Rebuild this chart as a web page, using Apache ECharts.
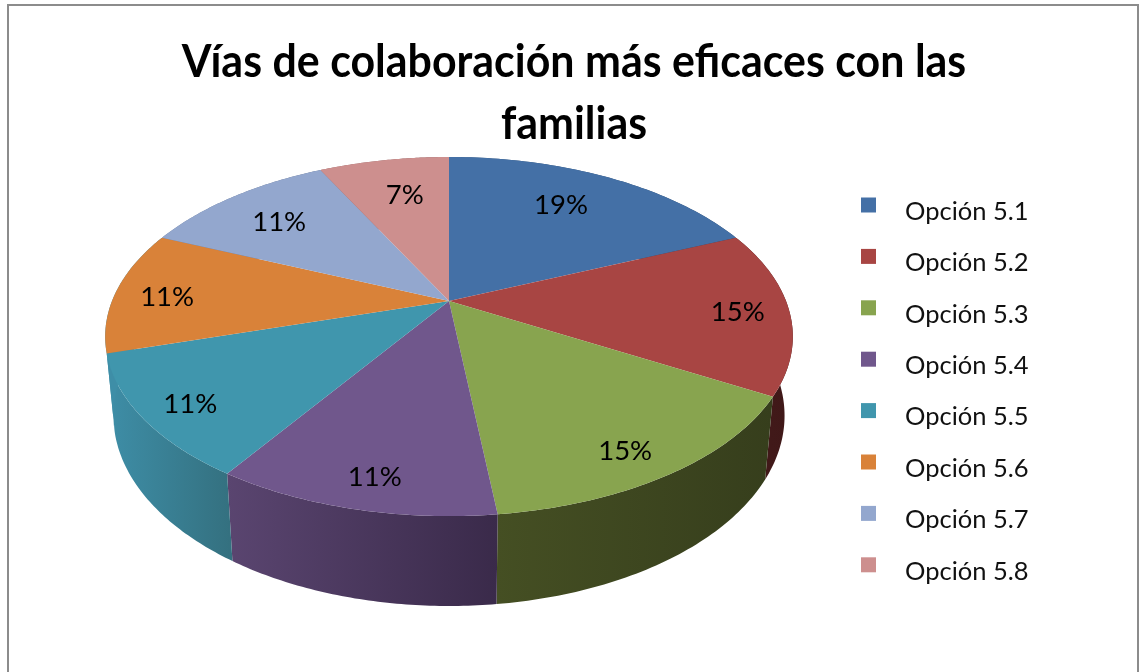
<!DOCTYPE html>
<html>
<head>
<meta charset="utf-8">
<style>
  html,body{margin:0;padding:0;background:#fff;overflow:hidden}
  #chart{width:1139px;height:672px}
</style>
<script src="https://cdn.jsdelivr.net/npm/echarts@6/dist/echarts.min.js"></script>
</head>
<body>
<div id="chart"></div>
<script>
// datos
var titleLines = ['Vías de colaboración más eficaces con las', 'familias'];
var categories = ['Opción 5.1','Opción 5.2','Opción 5.3','Opción 5.4','Opción 5.5','Opción 5.6','Opción 5.7','Opción 5.8'];
var shares = [18.5,14.8,14.8,11.1,11.1,11.1,11.1,7.4];

// colores
var topColors = ['#4470a6','#a84543','#88a44f','#70578c','#4096ad','#d98239','#93a7ce','#cd8f8e'];
var wallLeft = ['#36597f','#451b1b','#454f23','#5a4570','#3e8ea7','#3e8ea7','#6f7f9e','#9c6c6c'];
var wallRight = ['#2a4566','#3f1818','#363e1c','#3a2a4a','#34707f','#3e8ea7','#5d6b85','#845b5b'];

// posicion de cada porcentaje dentro de la porcion (radio relativo y ajuste en px)
var labelRadius = [0.74,0.85,0.85,0.87,0.86,0.84,0.75,0.72];
var labelShift = [[-10,-1],[0,3],[-7,8],[7,1],[0,5],[-2,4],[-3,2],[5,0]];

var total = shares.reduce(function(a,b){return a+b},0);

// proyeccion del disco en perspectiva
var apexX = 449, apexY = 301;
var scaleX = 337, scaleY = 172.5, persp = 0.198;
function project(t, r){
  var u = r*Math.sin(t), v = r*Math.cos(t), w = 1+persp*v;
  return [apexX+scaleX*u/w, apexY-scaleY*v/w];
}
// borde inferior de la pared
function lower(p){
  return [apexX+(p[0]-apexX)*0.976, apexY+77+(p[1]-apexY)*1.06];
}

function sliceRender(index){
  return function(params, api){
    var before = 0;
    for(var i=0;i<index;i++) before += shares[i];
    var value = api.value(0);
    var t0 = before/total*Math.PI*2, t1 = (before+value)/total*Math.PI*2;
    var arc = [], steps = 60;
    for(var s=0;s<=steps;s++) arc.push(project(t0+(t1-t0)*s/steps,1));
    var wall = arc.concat(arc.map(lower).reverse());
    var face = [[apexX,apexY]].concat(arc);
    var mid = (t0+t1)/2;
    var lp = project(mid, labelRadius[index]);
    return {
      type:'group',
      children:[
        {type:'polygon', z2:1, shape:{points:wall}, style:{
          fill:new echarts.graphic.LinearGradient(0,0,1,0,[
            {offset:0,color:wallLeft[index]},{offset:1,color:wallRight[index]}
          ])
        }},
        {type:'polygon', z2:2, shape:{points:face}, style:{fill:topColors[index]}},
        {type:'text', z2:3, style:{
          x:lp[0]+labelShift[index][0], y:lp[1]+labelShift[index][1], text:Math.round(value/total*100)+'%',
          fill:'#000', font:'27.5px Lato', textAlign:'center', textVerticalAlign:'middle'
        }}
      ]
    };
  };
}

var series = categories.map(function(name,i){
  return {
    name:name,
    type:'custom',
    coordinateSystem:'none',
    renderItem:sliceRender(i),
    data:[[shares[i]]],
    itemStyle:{color:topColors[i]},
    silent:true
  };
});

var chart = echarts.init(document.getElementById('chart'));
chart.setOption({
  animation:false,
  backgroundColor:'#fff',
  legend:{
    orient:'vertical',
    left:861, top:197.5, padding:0,
    itemWidth:15, itemHeight:15, itemGap:24.4,
    icon:'rect',
    selectedMode:false,
    data:categories,
    formatter:'{a|{name}}',
    textStyle:{
      rich:{a:{fontFamily:'Lato',fontSize:25.5,color:'#111',padding:[13,0,0,24]}}
    }
  },
  graphic:[{
    type:'rect', silent:true, z:-1,
    shape:{x:8,y:5,width:1130,height:720},
    style:{fill:'none',stroke:'#8c8c8c',lineWidth:2}
  },{
    type:'text', silent:true,
    x:574, y:31, scaleX:0.933,
    style:{
      text:titleLines.join('\n'),
      font:'bold 46px Lato', fill:'#000', lineHeight:62, textAlign:'center'
    }
  }],
  series:series
});
</script>
</body>
</html>
